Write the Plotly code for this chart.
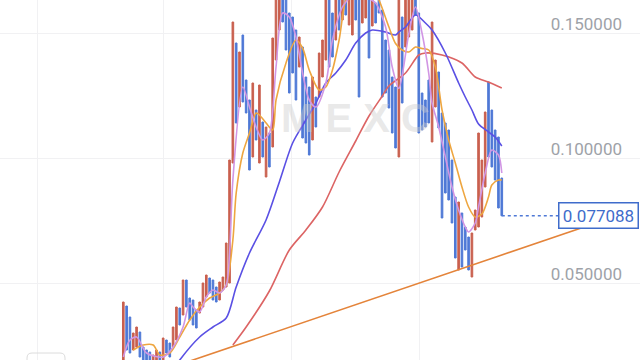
import plotly.graph_objects as go

# ---- candle data: direction (u = up/red, d = down/blue), high, low ----
directions = (
    "udduudddduududd"          # 0-14
    "uududddduuudddu"          # 15-29
    "uuuududddududud"          # 30-44
    "uuuddddduddduduu"         # 45-60
    "uddududuudduududd"        # 61-77
    "ddddduduuudddddu"         # 78-93
    "udddddduddduuuuuddddd"    # 94-114
)
highs = [
    0.0426, 0.0410, 0.0366, 0.0302, 0.0326, 0.0306, 0.0246, 0.0234, 0.0226, 0.0214,
    0.0234, 0.0226, 0.0282, 0.0274, 0.0262, 0.0326, 0.0406, 0.0402, 0.0514, 0.0514,
    0.0442, 0.0434, 0.0394, 0.0426, 0.0502, 0.0534, 0.0522, 0.0514, 0.0486, 0.0506,
    0.0526, 0.0662, 0.0994, 0.1546, 0.1462, 0.1426, 0.1494, 0.1314, 0.1234, 0.1302,
    0.1194, 0.1294, 0.1146, 0.1126, 0.1102, 0.1482, 0.1674, 0.1674, 0.1674, 0.1654,
    0.1582, 0.1566, 0.1514, 0.1486, 0.1446, 0.1326, 0.1286, 0.1326, 0.1246, 0.1422,
    0.1474, 0.1654, 0.1654, 0.1582, 0.1674, 0.1674, 0.1674, 0.1674, 0.1674, 0.1674,
    0.1674, 0.1654, 0.1674, 0.1674, 0.1654, 0.1674, 0.1622, 0.1654, 0.1594, 0.1474,
    0.1434, 0.1326, 0.1286, 0.1654, 0.1566, 0.1654, 0.1654, 0.1674, 0.1654, 0.1582,
    0.1262, 0.1234, 0.1314, 0.1546, 0.1394, 0.1346, 0.1182, 0.1142, 0.1114, 0.0994,
    0.0846, 0.0826, 0.0782, 0.0726, 0.0686, 0.0702, 0.0794, 0.1102, 0.0994, 0.1186,
    0.1306, 0.1194, 0.1114, 0.1086, 0.0922,
]
lows = [
    0.0174, 0.0234, 0.0222, 0.0234, 0.0246, 0.0206, 0.0186, 0.0170, 0.0154, 0.0146,
    0.0162, 0.0154, 0.0186, 0.0222, 0.0206, 0.0246, 0.0274, 0.0334, 0.0374, 0.0406,
    0.0354, 0.0334, 0.0322, 0.0382, 0.0406, 0.0446, 0.0462, 0.0434, 0.0426, 0.0434,
    0.0474, 0.0486, 0.0502, 0.0982, 0.1142, 0.1206, 0.1226, 0.1182, 0.0954, 0.1006,
    0.1074, 0.0982, 0.1006, 0.0926, 0.0966, 0.1046, 0.1394, 0.1514, 0.1546, 0.1434,
    0.1262, 0.1342, 0.1234, 0.1366, 0.1082, 0.1062, 0.1014, 0.1074, 0.1126, 0.1246,
    0.1326, 0.1394, 0.1366, 0.1406, 0.1474, 0.1514, 0.1554, 0.1574, 0.1534, 0.1494,
    0.1554, 0.1246, 0.1542, 0.1562, 0.1402, 0.1530, 0.1542, 0.1582, 0.1246, 0.1262,
    0.1202, 0.1102, 0.1042, 0.1006, 0.1222, 0.1446, 0.1486, 0.1514, 0.1574, 0.1102,
    0.1114, 0.1126, 0.1142, 0.1066, 0.1206, 0.1122, 0.0762, 0.0862, 0.0834, 0.0742,
    0.0602, 0.0554, 0.0566, 0.0634, 0.0554, 0.0526, 0.0714, 0.0726, 0.0766, 0.0886,
    0.1006, 0.0966, 0.0914, 0.0802, 0.077088,
]
n = len(highs)
opens = [lo if d == "u" else hi for d, hi, lo in zip(directions, highs, lows)]
closes = [hi if d == "u" else lo for d, hi, lo in zip(directions, highs, lows)]
idx = list(range(n))
last_price = 0.077088

# ---- moving averages ----
ma5_x = [0, 2, 4, 7, 12, 15, 18, 20, 21, 23, 25, 27, 29, 31, 32, 33, 36, 38, 40, 42, 44, 46,
         48, 50, 52, 54, 56, 58, 61, 63, 66, 68, 70, 72, 74, 76, 79, 81, 83, 86, 88, 90, 92,
         93, 95, 97, 99, 101, 103, 104, 106, 107, 109, 111, 113, 114]
ma5_y = [0.0206, 0.0274, 0.0286, 0.0222, 0.0206, 0.0246, 0.0326, 0.0422, 0.0406, 0.0386,
         0.0446, 0.0474, 0.0462, 0.0494, 0.0620, 0.0914, 0.1286, 0.1206, 0.1126, 0.1074,
         0.1102, 0.1366, 0.1582, 0.1566, 0.1486, 0.1342, 0.1234, 0.1206, 0.1302, 0.1474,
         0.1606, 0.1640, 0.1660, 0.1660, 0.1640, 0.1622, 0.1526, 0.1366, 0.1280, 0.1500,
         0.1606, 0.1500, 0.1340, 0.1222, 0.1126, 0.1006, 0.0886, 0.0794, 0.0726, 0.0706,
         0.0742, 0.0806, 0.0942, 0.1034, 0.1014, 0.0942]
ma10_x = [3, 6, 9, 11, 14, 17, 20, 23, 26, 29, 31, 33, 34, 36, 38, 40, 41, 43, 45, 46, 49,
          52, 54, 56, 59, 61, 63, 65, 67, 69, 71, 73, 75, 77, 80, 82, 84, 86, 88, 90, 92,
          94, 96, 98, 100, 102, 104, 106, 108, 110, 111, 113, 114]
ma10_y = [0.0234, 0.0254, 0.0254, 0.0214, 0.0222, 0.0286, 0.0354, 0.0406, 0.0442, 0.0462,
          0.0494, 0.0674, 0.0862, 0.1022, 0.1102, 0.1182, 0.1174, 0.1142, 0.1114, 0.1234,
          0.1382, 0.1474, 0.1442, 0.1354, 0.1274, 0.1286, 0.1354, 0.1474, 0.1634, 0.1680,
          0.1700, 0.1700, 0.1680, 0.1634, 0.1526, 0.1460, 0.1434, 0.1426, 0.1446, 0.1440,
          0.1434, 0.1366, 0.1194, 0.1074, 0.0982, 0.0886, 0.0806, 0.0766, 0.0778, 0.0846,
          0.0894, 0.0914, 0.0914]
ma30_x = [14, 17, 23, 27, 31, 34, 38, 43, 47, 51, 55, 58, 61, 64, 67, 70, 73, 75, 79, 82,
          83, 85, 88, 91, 93, 97, 101, 103, 105, 107, 110, 112, 114]
ma30_y = [0.0134, 0.0194, 0.0286, 0.0326, 0.0362, 0.0486, 0.0622, 0.0754, 0.0906, 0.1062,
          0.1154, 0.1222, 0.1302, 0.1342, 0.1394, 0.1462, 0.1502, 0.1514, 0.1506, 0.1494,
          0.1506, 0.1526, 0.1574, 0.1542, 0.1514, 0.1422, 0.1302, 0.1246, 0.1194, 0.1138,
          0.1106, 0.1086, 0.1050]
ma60_x = [33, 37, 44, 50, 55, 60, 65, 70, 74, 78, 80, 85, 89, 91, 96, 102, 106, 110, 114]
ma60_y = [0.0254, 0.0326, 0.0470, 0.0634, 0.0714, 0.0806, 0.0946, 0.1070, 0.1170, 0.1250,
          0.1290, 0.1342, 0.1414, 0.1422, 0.1414, 0.1382, 0.1326, 0.1306, 0.1282]

# ---- trend line (two points) ----
trend_x = [15, 145]
trend_y = [0.0167, 0.0754]

y_ticks = [0.05, 0.10, 0.15]
y_ticktext = ["0.050000", "0.100000", "0.150000"]
x_grid = [-25.7, 12.0, 50.7, 89.3]

RED = "#c9604f"
BLUE = "#4f79d6"

fig = go.Figure()
fig.add_trace(go.Candlestick(
    x=idx, open=opens, high=highs, low=lows, close=closes,
    increasing=dict(line=dict(color=RED, width=1), fillcolor=RED),
    decreasing=dict(line=dict(color=BLUE, width=1), fillcolor=BLUE),
    whiskerwidth=0, showlegend=False, hoverinfo="skip",
))
fig.add_trace(go.Scatter(x=trend_x, y=trend_y, mode="lines",
                         line=dict(color="#e4843a", width=1.6), showlegend=False, hoverinfo="skip"))
for xs, ys, col in [(ma60_x, ma60_y, "#dc6464"), (ma30_x, ma30_y, "#5a50e4"),
                    (ma10_x, ma10_y, "#eea640"), (ma5_x, ma5_y, "#d196e4")]:
    fig.add_trace(go.Scatter(x=xs, y=ys, mode="lines",
                             line=dict(color=col, width=1.6, shape="spline", smoothing=0.8),
                             showlegend=False, hoverinfo="skip"))

# dotted last-price line
fig.add_trace(go.Scatter(x=[idx[-1], idx[-1] + 17], y=[last_price, last_price], mode="lines",
                         line=dict(color=BLUE, width=1.4, dash="dot"), showlegend=False, hoverinfo="skip"))

fig.update_layout(
    width=640, height=360, margin=dict(l=0, r=0, t=0, b=0),
    paper_bgcolor="white", plot_bgcolor="white",
    xaxis=dict(range=[-37.14, 155.63], tickvals=x_grid, showticklabels=False, ticks="",
               showgrid=True, gridcolor="#f1f1f3", gridwidth=1, zeroline=False,
               rangeslider=dict(visible=False), showline=False),
    yaxis=dict(range=[0.0194, 0.1634], side="right", tickvals=y_ticks, ticktext=y_ticktext,
               ticklabelposition="inside", ticks="", showgrid=True, gridcolor="#f1f1f3",
               zeroline=False, showline=False, ticklabelshift=-9, ticklabelstandoff=15,
               tickfont=dict(family="Roboto", size=17, color="#9ea2a8")),
    font=dict(family="Roboto"),
)

# watermark
fig.add_annotation(text="<b>M E X C</b>", x=0.555, y=0.672, xref="paper", yref="paper",
                   xanchor="center", yanchor="middle",
                   showarrow=False, font=dict(family="Liberation Sans", size=40,
                                              color="rgba(205,205,205,0.45)"))

# last price label
fig.add_annotation(text=f"{last_price:.6f}", x=1, xref="paper", xanchor="right", xshift=-1,
                   y=last_price, yref="y", yanchor="middle", showarrow=False,
                   font=dict(family="Roboto", size=17, color="#3f6ccb"),
                   bgcolor="white", bordercolor="#3f6ccb", borderwidth=1.5, borderpad=2,
                   width=74, height=20)

# bottom-left button outline
rx, ry = 5 / 640, 5 / 360
x0b, x1b, ytop, ybot = 27 / 640, 65 / 640, 7 / 360, -0.05
fig.add_shape(type="path", xref="paper", yref="paper",
              path=(f"M {x0b},{ybot} L {x0b},{ytop - ry} Q {x0b},{ytop} {x0b + rx},{ytop} "
                    f"L {x1b - rx},{ytop} Q {x1b},{ytop} {x1b},{ytop - ry} L {x1b},{ybot}"),
              line=dict(color="#dcdcdc", width=1))

fig.write_html("out.html")
